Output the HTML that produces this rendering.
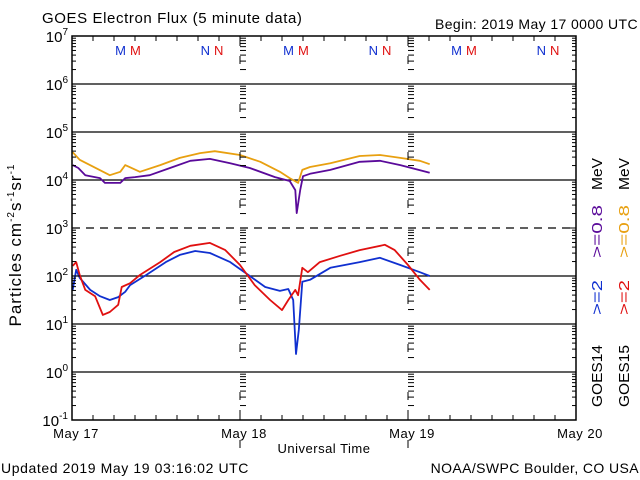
<!DOCTYPE html>
<html><head><meta charset="utf-8"><style>
html,body{margin:0;padding:0;background:#fff;}
svg{display:block;font-family:"Liberation Sans",sans-serif;}
</style></head><body>
<svg id="chart" width="640" height="480" viewBox="0 0 640 480" xmlns="http://www.w3.org/2000/svg">
<rect width="640" height="480" fill="#fff"/>
<text x="42" y="23" font-size="15" letter-spacing="0.6">GOES Electron Flux (5 minute data)</text>
<text x="638" y="29" font-size="14" text-anchor="end" letter-spacing="0.4">Begin: 2019 May 17 0000 UTC</text>
<text transform="translate(21,245) rotate(-90)" font-size="17" text-anchor="middle" letter-spacing="1">Particles cm<tspan font-size="10" dy="-7">-2</tspan><tspan dy="7">s</tspan><tspan font-size="10" dy="-7">-1</tspan><tspan dy="7">sr</tspan><tspan font-size="10" dy="-7">-1</tspan></text>
<text x="324" y="453" font-size="13" text-anchor="middle" letter-spacing="0.5">Universal Time</text>
<text x="1" y="473" font-size="14" letter-spacing="0.6">Updated 2019 May 19 03:16:02 UTC</text>
<text x="639" y="473" font-size="14" text-anchor="end" letter-spacing="0.4">NOAA/SWPC Boulder, CO USA</text>
<g font-size="15">
<text transform="translate(602,407) rotate(-90)" textLength="62" lengthAdjust="spacingAndGlyphs">GOES14</text>
<text transform="translate(602,315) rotate(-90)" fill="#1030d0" textLength="35" lengthAdjust="spacingAndGlyphs">&gt;=2</text>
<text transform="translate(602,258) rotate(-90)" fill="#5a0a9a" textLength="53" lengthAdjust="spacingAndGlyphs">&gt;=0.8</text>
<text transform="translate(602,190) rotate(-90)" textLength="32" lengthAdjust="spacingAndGlyphs">MeV</text>
</g>
<g font-size="15">
<text transform="translate(629,407) rotate(-90)" textLength="62" lengthAdjust="spacingAndGlyphs">GOES15</text>
<text transform="translate(629,315) rotate(-90)" fill="#e01010" textLength="35" lengthAdjust="spacingAndGlyphs">&gt;=2</text>
<text transform="translate(629,258) rotate(-90)" fill="#e8a010" textLength="53" lengthAdjust="spacingAndGlyphs">&gt;=0.8</text>
<text transform="translate(629,190) rotate(-90)" textLength="32" lengthAdjust="spacingAndGlyphs">MeV</text>
</g>
<g id="grid"></g><g id="series"></g><g id="axes"></g>
</svg>
<script>
const dayLabels = ["May 17","May 18","May 19","May 20"];
const decadeExps = [7,6,5,4,3,2,1,0,-1];
const markerLetters = ["M","N","M","N","M","N"];
const markerHours = [8,20,32,44,56,68];
const g15lowHours = [0.1,1.1,5.4,6.9,7.6,9.7,12.6,15.4,18.3,20.4,24,26.9,29.7,31.1,32.3,32.9,34,36.9,41.1,44,46.9,49.7,51.1];
const g15lowLog = [4.58,4.42,4.10,4.17,4.31,4.17,4.31,4.46,4.56,4.60,4.52,4.38,4.17,4.04,3.94,4.21,4.27,4.35,4.50,4.52,4.46,4.40,4.33];
const g14lowHours = [0.1,0.9,1.9,4,4.7,6.9,7.6,9,11.1,14,16.9,19.7,22.6,25.4,29,31.1,31.9,32.1,32.6,33,34,36.9,41.1,44,46.9,51.1];
const g14lowLog = [4.31,4.25,4.10,4.04,3.94,3.94,4.04,4.06,4.10,4.25,4.40,4.44,4.35,4.25,4.06,3.98,3.79,3.31,3.79,4.08,4.13,4.21,4.38,4.40,4.31,4.15];
const g15highHours = [0.1,0.6,1.1,1.9,3.3,4.4,5.4,6.6,7.1,8.3,9.7,12.6,14.6,16.9,19.7,21.9,24,26.1,28.3,30,30.9,31.9,32.3,32.9,33.7,35.4,38.3,41.1,44.7,46.1,48,49.7,51.1];
const g15highLog = [2.21,2.29,2.02,1.71,1.58,1.19,1.25,1.40,1.77,1.85,2.02,2.29,2.50,2.63,2.69,2.54,2.23,1.81,1.50,1.29,1.50,1.71,1.60,2.17,2.08,2.29,2.42,2.54,2.65,2.54,2.23,1.92,1.71];
const g14highHours = [0.1,0.6,1.1,2.6,4,5.4,6.6,7.6,8.3,10.6,13.4,15.4,17.6,19.7,22.6,25.4,27.6,29.7,30.9,31.6,32,32.4,32.9,34,36.9,41.1,44,46.9,49.7,51.1];
const g14highLog = [1.71,2.13,1.96,1.71,1.58,1.50,1.56,1.67,1.81,2.02,2.29,2.44,2.52,2.48,2.29,2.00,1.77,1.69,1.73,1.50,0.375,0.875,1.88,1.92,2.17,2.29,2.38,2.23,2.08,2.00];

const L=72,R=576,T=36,B=420;
const xS=h=>L+(h/72)*(R-L);
const yS=lg=>T+(7-lg)/8*(B-T);
const NS="http://www.w3.org/2000/svg";
function mk(tag,parent,attrs){const e=document.createElementNS(NS,tag);for(const k in attrs)e.setAttribute(k,attrs[k]);parent.appendChild(e);return e;}
const grid=document.getElementById('grid'),axes=document.getElementById('axes'),ser=document.getElementById('series');

decadeExps.forEach(ex=>{
  const y=yS(ex);
  if(ex<7&&ex>-1){const ln=mk('line',grid,{x1:L,x2:R,y1:y,y2:y,stroke:'#000','stroke-width':1.2});
    if(ex===3)ln.setAttribute('stroke-dasharray','8,6');
    
    }
  const t=mk('text',axes,{x:L-4,y:y+6,'font-size':15,'text-anchor':'end'});
  
  
  t.innerHTML='10<tspan font-size="10" dy="-7">'+ex+'</tspan>';
});
for(let ex=-1;ex<7;ex++){for(let m=1;m<10;m++){
  const y=yS(ex+Math.log10(m)); const len=m===1?8:4;
  mk('line',axes,{x1:L,x2:L+len,y1:y,y2:y,stroke:'#000'});
  mk('line',axes,{x1:R,x2:R-len,y1:y,y2:y,stroke:'#000'});
  [1,2].forEach(d=>{const xd=xS(d*24);mk('line',axes,{x1:xd,x2:xd+6,y1:y,y2:y,stroke:'#000'});});
}}
for(let h=0;h<=72;h+=3){const x=xS(h);const len=h%24===0?10:5;
  mk('line',axes,{x1:x,x2:x,y1:B,y2:B-len,stroke:'#000'});
  mk('line',axes,{x1:x,x2:x,y1:T,y2:T+len,stroke:'#000'});
  if(h%24===0 && h>0 && h<72){for(let i=0;i<9;i++){const yy=T+i*48+20;mk('line',axes,{x1:x,x2:x,y1:yy,y2:yy+8,stroke:'#000'});}}
}
dayLabels.forEach((d,i)=>{const t=mk('text',axes,{x:xS(i*24)+4,y:438,'font-size':13,'text-anchor':'middle','letter-spacing':0.5});
  
  
  t.textContent=d;});
const fr=mk('rect',axes,{x:L,y:T,width:R-L,height:B-T,fill:'none',stroke:'#000','stroke-width':1.5});


markerHours.forEach((h,i)=>{const x=xS(h);
  const a=mk('text',axes,{x:x-2,y:55,'font-size':13,fill:'#1030d0','text-anchor':'end'});a.textContent=markerLetters[i];
  
  
  const b=mk('text',axes,{x:x+2,y:55,'font-size':13,fill:'#e01010'});b.textContent=markerLetters[i];
  
  });
function line(hs,ls,color,name){const p=mk('polyline',ser,{points:hs.map((h,i)=>xS(h).toFixed(1)+','+yS(ls[i]).toFixed(1)).join(' '),fill:'none',stroke:color,'stroke-width':1.8,'stroke-linejoin':'round'});
  
  }
line(g15lowHours,g15lowLog,'#e8a010','goes15-0.8mev-line');
line(g14lowHours,g14lowLog,'#5a0a9a','goes14-0.8mev-line');
line(g14highHours,g14highLog,'#1030d0','goes14-2mev-line');
line(g15highHours,g15highLog,'#e01010','goes15-2mev-line');
</script>
</body></html>
